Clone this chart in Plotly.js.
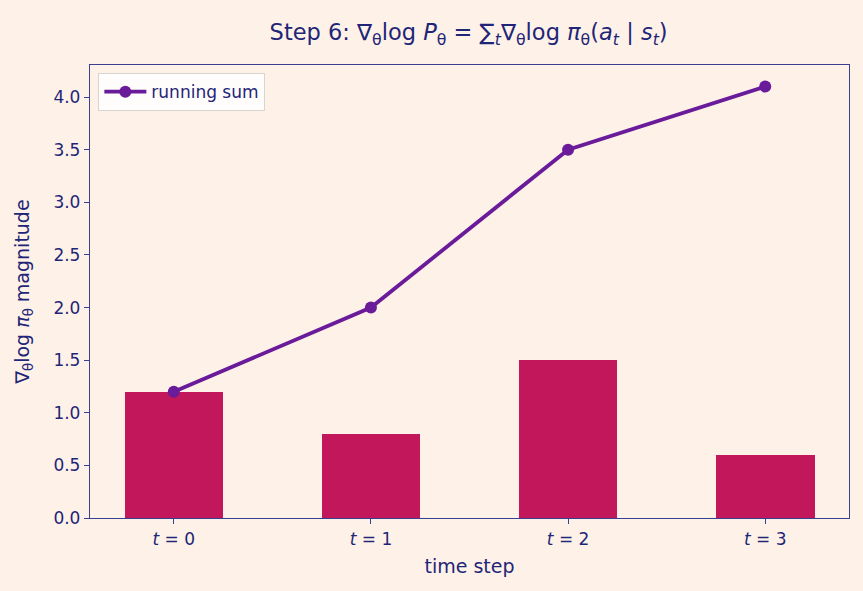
<!DOCTYPE html>
<html><head><meta charset="utf-8">
<script src="https://cdn.plot.ly/plotly-3.0.1.min.js"></script>
<style>html,body{margin:0;padding:0;background:#fef2e8;}</style>
</head><body>
<div id="chart" style="width:863px;height:591px;"></div>
<script>
const steps = [0, 1, 2, 3];
const tickLabels = ["<i>t</i> = 0", "<i>t</i> = 1", "<i>t</i> = 2", "<i>t</i> = 3"];
const gradMagnitude = [1.2, 0.8, 1.5, 0.6];
const runningSum = [1.2, 2.0, 3.5, 4.1];

const navy = "#1f2577";
const spine = "#3a3f8f";
const traces = [
  {type: "bar", x: steps, y: gradMagnitude, width: 0.5, marker: {color: "#c2185b"}, showlegend: false, hoverinfo: "skip"},
  {type: "scatter", mode: "lines+markers", x: steps, y: runningSum, name: "running sum",
   line: {color: "#6a1b9a", width: 3.8}, marker: {color: "#6a1b9a", size: 12}}
];
const layout = {
  width: 863, height: 591,
  paper_bgcolor: "#fef2e8", plot_bgcolor: "#fef2e8",
  font: {family: "DejaVu Sans", color: navy, size: 17},
  margin: {l: 90, r: 14, t: 65, b: 73},
  title: {text: "Step 6: ∇<sub>θ</sub>log <i>P</i><sub>θ</sub> = ∑<sub><i>t</i></sub>∇<sub>θ</sub>log <i>π</i><sub>θ</sub>(<i>a</i><sub><i>t</i></sub> | <i>s</i><sub><i>t</i></sub>)",
          font: {size: 22.5, color: navy}, x: 0.543, xanchor: "center", y: 0.945, yanchor: "middle"},
  xaxis: {range: [-0.425, 3.425], tickvals: steps, ticktext: tickLabels, ticks: "outside", ticklen: 5,
          tickcolor: spine, showline: true, linecolor: spine, linewidth: 1.3, mirror: true, showgrid: false,
          zeroline: false, tickfont: {size: 17},
          title: {text: "time step", font: {size: 19, color: navy}, standoff: 12}},
  yaxis: {range: [0, 4.305], dtick: 0.5, tickformat: ".1f", ticks: "outside", ticklen: 5,
          tickcolor: spine, showline: true, linecolor: spine, linewidth: 1.3, mirror: true, showgrid: false,
          zeroline: false, tickfont: {size: 17},
          title: {text: "∇<sub>θ</sub>log <i>π</i><sub>θ</sub> magnitude", font: {size: 19, color: navy}, standoff: 18}},
  legend: {x: 0.011, y: 0.982, xanchor: "left", yanchor: "top", bgcolor: "rgba(255,255,255,0.8)",
           bordercolor: "#d8d4d0", borderwidth: 1, font: {size: 17, color: navy}, itemwidth: 42},
  bargap: 0
};
Plotly.newPlot("chart", traces, layout, {displayModeBar: false});
</script>
</body></html>
